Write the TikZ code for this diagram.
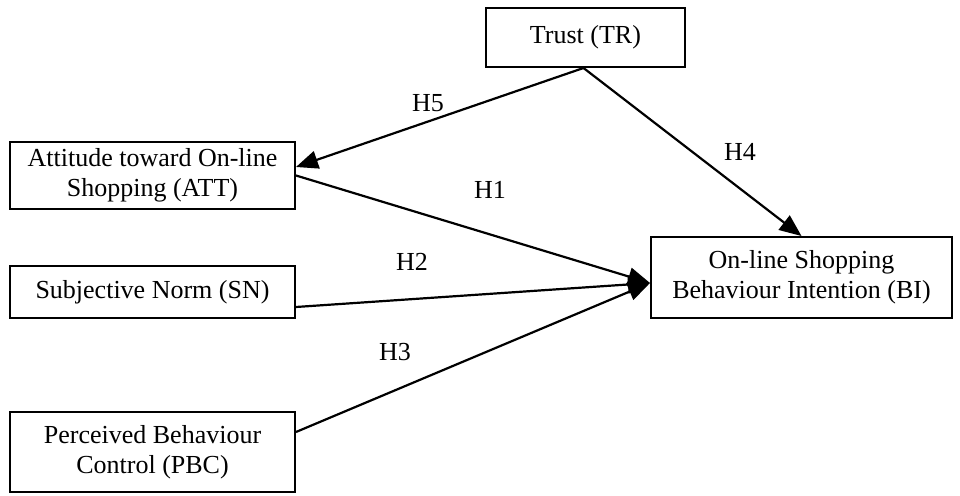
\documentclass[tikz,border=0pt]{standalone}
\usepackage{fontspec}
\setmainfont{Liberation Serif}
\usetikzlibrary{arrows.meta}
\begin{document}
\begin{tikzpicture}[x=0.5pt,y=-0.5pt,
  box/.style={draw, line width=1pt, inner sep=0pt, align=center,
    font=\fontsize{13}{15}\selectfont},
  conn/.style={line width=1.1pt, -{Triangle[length=11pt,width=9pt]}},
  lbl/.style={font=\fontsize{13}{15}\selectfont, inner sep=0pt}]
\useasboundingbox (0,0) rectangle (960,496);
\node[box, minimum width=99.5pt, minimum height=29.5pt] (tr) at (585.5,37.5) {Trust (TR)};
\node[box, minimum width=142.5pt, minimum height=33.5pt] (att) at (152.5,175.5) {Attitude toward On-line\\Shopping (ATT)};
\node[box, minimum width=142.5pt, minimum height=26pt] (sn) at (152.5,292) {Subjective Norm (SN)};
\node[box, minimum width=142.5pt, minimum height=40pt] (pbc) at (152.5,452) {Perceived Behaviour\\Control (PBC)};
\node[box, minimum width=150.5pt, minimum height=40.5pt] (bi) at (801.5,277.5) {On-line Shopping\\Behaviour Intention (BI)};
\draw[conn] ([xshift=-1pt]tr.south) -- ([yshift=4.25pt]att.east);
\draw[conn] ([xshift=-1pt]tr.south) -- (bi.north);
\draw[conn] (att.east) -- ([yshift=-2.75pt]bi.west);
\draw[conn] ([yshift=-7.5pt]sn.east) -- ([yshift=-2.75pt]bi.west);
\draw[conn] ([yshift=10pt]pbc.east) -- ([yshift=-2.75pt]bi.west);
\node[lbl] (h5) at (428,103) {H5};
\node[lbl] (h4) at (740,152) {H4};
\node[lbl] (h1) at (490,190) {H1};
\node[lbl] (h2) at (412,262) {H2};
\node[lbl] (h3) at (395,352) {H3};
\end{tikzpicture}
\end{document}
